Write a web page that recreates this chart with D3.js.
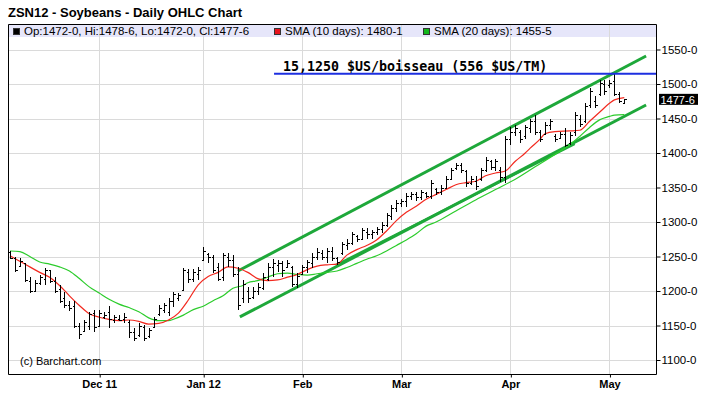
<!DOCTYPE html>
<html>
<head>
<meta charset="utf-8">
<script src="https://cdn.jsdelivr.net/npm/d3@7"></script>
<style>
  body { margin: 0; background: #fff; }
  text { font-family: "Liberation Sans", Arial, sans-serif; }
</style>
</head>
<body>
<div id="chart"></div>
<script>
// daily bars, Nov 4 2011 -> May 4 2012 (index = trading day)
const opens  = [1256,1248,1236,1240,1215,1200,1212,1218,1230,1214,1203,1190,1180,1178,1150,1142,1150,1168,1150,1162,
                1170,1158,1160,1160,1155,1140,1136,1148,1135,1148,1166,1172,1170,1185,1190,1202,1228,1218,1225,1245,
                1254,1250,1235,1220,1250,1245,1225,1190,1200,1192,1200,1205,1218,1235,1238,1240,1235,1235,1210,1225,
                1235,1240,1250,1255,1250,1258,1248,1255,1266,1270,1280,1276,1286,1282,1285,1290,1296,1308,1320,1328,
                1330,1338,1340,1336,1342,1338,1348,1344,1350,1362,1378,1382,1374,1356,1360,1362,1375,1388,1380,1376,
                1365,1420,1430,1430,1424,1436,1446,1430,1428,1440,1425,1422,1428,1415,1430,1450,1446,1470,1476,1485,
                1500,1498,1505,1486,1472]
const highs  = [1258,1250,1248,1241,1221,1216,1223,1234,1231,1221,1209,1199,1186,1186,1154,1158,1170,1173,1172,1170,
                1178,1165,1165,1168,1158,1146,1154,1151,1146,1163,1180,1183,1190,1199,1197,1234,1232,1232,1235,1264,
                1255,1252,1240,1255,1255,1252,1235,1216,1206,1206,1211,1226,1240,1247,1245,1244,1245,1236,1226,1238,
                1245,1255,1262,1259,1262,1264,1250,1271,1276,1286,1281,1291,1291,1288,1293,1300,1313,1325,1332,1334,
                1342,1344,1344,1346,1344,1361,1349,1354,1366,1378,1385,1385,1375,1366,1366,1378,1394,1390,1392,1380,
                1424,1438,1441,1433,1441,1450,1455,1433,1445,1450,1428,1431,1436,1431,1460,1455,1472,1494,1482,1506,
                1506,1506,1515,1489,1478.75]
const lows   = [1246,1227,1235,1213,1197,1198,1209,1209,1212,1197,1183,1176,1171,1147,1130,1141,1144,1141,1148,1159,
                1146,1154,1157,1154,1132,1127,1134,1127,1132,1146,1164,1168,1164,1177,1186,1200,1212,1213,1216,1243,
                1240,1226,1214,1215,1235,1221,1172,1182,1183,1189,1194,1201,1214,1221,1228,1221,1233,1206,1204,1223,
                1226,1233,1245,1245,1240,1243,1238,1252,1259,1267,1271,1274,1276,1276,1281,1284,1293,1303,1315,1322,
                1322,1332,1330,1332,1335,1334,1339,1339,1349,1361,1375,1371,1351,1354,1346,1360,1372,1375,1374,1358,
                1356,1412,1424,1414,1421,1429,1426,1416,1426,1433,1416,1421,1409,1412,1424,1438,1443,1465,1465,1482,
                1484,1494,1482,1472,1472]
const closes = [1248,1230,1244,1216,1200,1212,1220,1230,1215,1200,1186,1180,1175,1150,1138,1155,1166,1148,1168,1165,
                1160,1162,1158,1162,1140,1132,1150,1132,1144,1160,1175,1180,1186,1195,1194,1230,1218,1228,1230,1258,
                1250,1230,1218,1252,1245,1225,1180,1210,1190,1200,1206,1220,1235,1240,1240,1230,1240,1210,1222,1235,
                1242,1250,1256,1250,1258,1248,1242,1268,1270,1282,1275,1288,1282,1285,1290,1296,1310,1320,1328,1330,
                1338,1340,1336,1344,1338,1356,1344,1350,1362,1375,1382,1376,1356,1362,1352,1375,1390,1380,1388,1365,
                1420,1430,1436,1420,1438,1446,1430,1420,1440,1446,1420,1428,1412,1426,1455,1442,1468,1490,1470,1502,
                1490,1502,1486,1476,1477.75]

// moving averages at sample days
const sma10Idx = [0,3,6,8,10,12,14,16,18,20,22,24,26,28,30,32,34,36,38,40,42,44,46,48,50,52,54,56,58,60,62,64,66,68,70,72,74,76,78,80,82,84,86,88,90,92,94,96,98,100,102,104,105,107,108,110,113,115,117,119,121,122,124]
const sma10    = [1251,1239,1227,1220,1208,1193,1179,1167,1162,1159,1157,1158,1156,1152,1153,1158,1168,1187,1209,1221,1227,1235,1233,1227,1218,1215,1216,1220,1224,1231,1236,1238,1239,1252,1260,1266,1274,1287,1302,1314,1323,1333,1340,1347,1354,1357,1359,1367,1371,1374,1388,1400,1407,1420,1428,1431,1432,1433,1446,1459,1472,1477,1480.125]
const sma20Idx = [0,2,4,6,8,10,12,14,16,18,20,22,24,26,28,30,32,33,35,37,39,41,43,45,47,48,50,52,54,56,58,60,62,64,66,68,70,72,74,76,78,80,82,84,86,90,94,98,102,106,110,113,115,117,119,121,122,124]
const sma20    = [1258,1257,1250,1242,1239,1235,1229,1218,1206,1197,1188,1181,1176,1170,1161,1157,1157,1159,1165,1173,1178,1186,1193,1204,1208,1212,1215,1220,1225,1226,1224,1223,1225,1227,1229,1234,1240,1246,1251,1258,1266,1274,1283,1294,1300,1316,1332,1347,1362,1380,1398,1412,1424,1437,1448,1453,1455,1455.625]

// hand drawn channel: [startIdx, startPrice, endIdx, endPrice, width]
const channelLines = [
  [46.0, 1229, 128.4, 1540.6, 3],
  [46.4, 1162.4, 128.4, 1469.6, 3],
  [65.8, 1237.7, 114, 1413, 2.2]
]
const resistance = { idx: 53.3, price: 1515, label: '15,1250 $US/boisseau (556 $US/TM)' }

const yTicks = [1100,1150,1200,1250,1300,1350,1400,1450,1500,1550]
const monthIdx = [18, 39, 59, 79, 101, 121]
const monthLabels = ['Dec 11', 'Jan 12', 'Feb', 'Mar', 'Apr', 'May']

const width = 707, height = 398
const plot = { left: 8, right: 656, top: 24, bottom: 374 }

// prices are quoted in cents and eighths
const fmt = p => {
  const w = Math.floor(p)
  return w + '-' + Math.round((p - w) * 8)
}

const svg = d3.select('#chart').append('svg')
  .attr('width', width)
  .attr('height', height)

const x = d3.scaleLinear().domain([0, 124]).range([10, 624.3])
const y = d3.scaleLinear().domain([1100, 1550]).range([360, 49.5])

// title
svg.append('text')
  .attr('x', 8).attr('y', 17)
  .style('font-size', '13px').style('font-weight', 'bold')
  .text('ZSN12 - Soybeans - Daily OHLC Chart')

// legend band
svg.append('rect')
  .attr('x', plot.left).attr('y', plot.top)
  .attr('width', plot.right - plot.left).attr('height', 13)
  .attr('fill', '#e6e6fa')

// grid
svg.append('g').selectAll('line')
  .data(yTicks)
  .enter()
  .append('line')
  .attr('x1', plot.left).attr('x2', plot.right)
  .attr('y1', d => Math.round(y(d)) + 0.5).attr('y2', d => Math.round(y(d)) + 0.5)
  .style('stroke', '#dadada')

svg.append('g').selectAll('line')
  .data(monthIdx)
  .enter()
  .append('line')
  .attr('x1', d => Math.round(x(d)) + 0.5).attr('x2', d => Math.round(x(d)) + 0.5)
  .attr('y1', plot.top).attr('y2', plot.bottom)
  .style('stroke', '#dadada')

// legend
const last = opens.length - 1
const legend = [
  { x: 13, color: '#000', text: `Op:${fmt(opens[last])}, Hi:${fmt(highs[last])}, Lo:${fmt(lows[last])}, Cl:${fmt(closes[last])}` },
  { x: 274, color: '#e8141e', text: `SMA (10 days): ${fmt(sma10[sma10.length - 1])}` },
  { x: 423, color: '#12b81c', text: `SMA (20 days): ${fmt(sma20[sma20.length - 1])}` }
]
const lg = svg.append('g').selectAll('g')
  .data(legend)
  .enter()
  .append('g')
lg.append('rect')
  .attr('x', d => d.x + 0.5).attr('y', 28.5)
  .attr('width', 6).attr('height', 6)
  .attr('fill', d => d.color)
  .attr('stroke', '#333')
lg.append('text')
  .attr('x', d => d.x + 11).attr('y', 35)
  .style('font-size', '11.5px')
  .text(d => d.text)

// copyright
svg.append('text')
  .attr('x', 20).attr('y', 365)
  .style('font-size', '11px')
  .text('(c) Barchart.com')

// channel lines
svg.append('g').selectAll('line')
  .data(channelLines)
  .enter()
  .append('line')
  .attr('x1', d => x(d[0])).attr('y1', d => y(d[1]))
  .attr('x2', d => x(d[2])).attr('y2', d => y(d[3]))
  .style('stroke', '#1ea83a')
  .style('stroke-width', d => d[4])

// moving averages
const smaLine = d3.line()
  .x(d => x(d[0]))
  .y(d => y(d[1]))
  .curve(d3.curveMonotoneX)

svg.append('path')
  .datum(d3.zip(sma20Idx, sma20))
  .attr('d', smaLine)
  .attr('fill', 'none')
  .style('stroke', '#2ccc2c')
  .style('stroke-width', 1.2)

svg.append('path')
  .datum(d3.zip(sma10Idx, sma10))
  .attr('d', smaLine)
  .attr('fill', 'none')
  .style('stroke', '#f2291f')
  .style('stroke-width', 1.2)

// OHLC bars
const bars = opens.map((o, i) => ({ i: i, o: o, h: highs[i], l: lows[i], c: closes[i] }))
const bx = d => Math.round(x(d.i)) + 0.5

const bg = svg.append('g').attr('class', 'bars').style('shape-rendering', 'crispEdges')
bg.selectAll('.hl')
  .data(bars)
  .enter()
  .append('line')
  .attr('class', 'hl')
  .attr('x1', bx).attr('x2', bx)
  .attr('y1', d => y(d.h)).attr('y2', d => y(d.l))
  .style('stroke', '#000')
bg.selectAll('.op')
  .data(bars)
  .enter()
  .append('line')
  .attr('class', 'op')
  .attr('x1', d => bx(d) - 2).attr('x2', bx)
  .attr('y1', d => Math.round(y(d.o)) + 0.5).attr('y2', d => Math.round(y(d.o)) + 0.5)
  .style('stroke', '#000')
bg.selectAll('.cl')
  .data(bars)
  .enter()
  .append('line')
  .attr('class', 'cl')
  .attr('x1', bx).attr('x2', d => bx(d) + 2)
  .attr('y1', d => Math.round(y(d.c)) + 0.5).attr('y2', d => Math.round(y(d.c)) + 0.5)
  .style('stroke', '#000')

// resistance line + note
svg.append('line')
  .attr('x1', x(resistance.idx)).attr('x2', plot.right)
  .attr('y1', y(resistance.price)).attr('y2', y(resistance.price))
  .style('stroke', '#1d2fe0')
  .style('stroke-width', 2)
svg.append('text')
  .attr('x', x(resistance.idx) + 9)
  .attr('y', y(resistance.price) - 3)
  .style('font-family', '"DejaVu Sans Mono", monospace')
  .style('font-weight', 'bold')
  .style('font-size', '13.3px')
  .text(resistance.label)

// frame
svg.append('path')
  .attr('d', `M${plot.left + 0.5},${plot.top + 0.5}H${plot.right + 0.5}V${plot.bottom + 0.5}H${plot.left + 0.5}Z`)
  .attr('fill', 'none')
  .style('stroke', '#000')

// axes
const yAxis = svg.append('g')
  .attr('transform', `translate(${plot.right + 0.5},0)`)
  .call(d3.axisRight(y).tickValues(yTicks).tickSize(4).tickPadding(1).tickFormat(fmt))
yAxis.select('.domain').remove()
yAxis.selectAll('text').style('font-size', '11.5px').style('font-family', '"Liberation Sans", Arial, sans-serif')

const xAxis = svg.append('g')
  .attr('transform', `translate(0,${plot.bottom + 0.5})`)
  .call(d3.axisBottom(x).tickValues(monthIdx).tickSize(3).tickPadding(3).tickFormat((d, i) => monthLabels[i]))
xAxis.select('.domain').remove()
xAxis.selectAll('.tick line').attr('transform', 'translate(0.5,0)')
xAxis.selectAll('text')
  .style('font-size', '11px').style('font-weight', 'bold')
  .style('font-family', '"Liberation Sans", Arial, sans-serif')

// last price marker
const lastBox = svg.append('g')
  .attr('transform', `translate(${plot.right + 3},${y(closes[last])})`)
lastBox.append('rect')
  .attr('x', 0).attr('y', -5.5)
  .attr('width', 39).attr('height', 11)
  .attr('fill', '#000')
lastBox.append('text')
  .attr('x', 1.5).attr('y', 4.5)
  .style('font-size', '11px')
  .attr('fill', '#fff')
  .text(fmt(closes[last]))
</script>
</body>
</html>
